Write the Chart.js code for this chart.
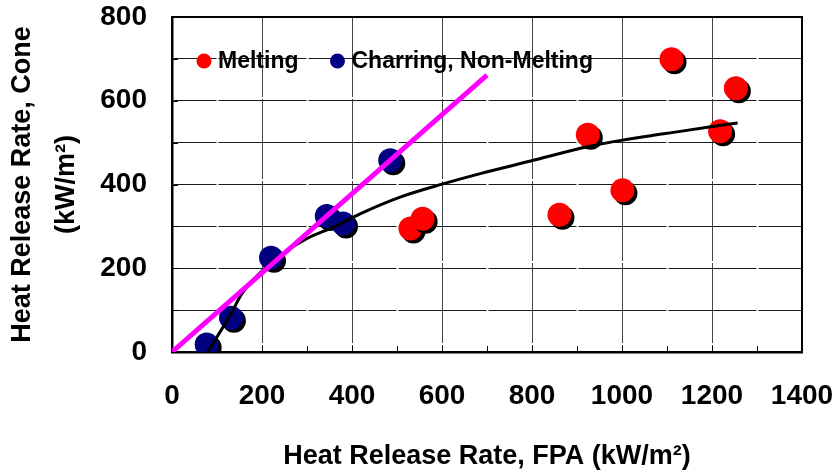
<!DOCTYPE html>
<html>
<head>
<meta charset="utf-8">
<script src="https://cdn.jsdelivr.net/npm/chart.js@4.4.1/dist/chart.umd.min.js"></script>
<style>
  html, body { margin: 0; padding: 0; background: #fff; }
  #canevas { display: block; }
</style>
</head>
<body>
<canvas id="canevas" width="834" height="474"></canvas>
<script>
// points mesures (kW/m2) : FPA en x, cone en y
const meltingFPA = [530, 557, 861, 924, 1001, 1110, 1218, 1253]
const meltingCone = [295, 318, 328, 519, 386, 699, 527, 630]

const charringFPA = [77, 131, 220, 344, 380, 485]
const charringCone = [18, 82, 225, 325, 307, 458]

// courbe de tendance noire
const courbeFPA = [79, 100, 133, 155, 218, 300, 359, 418, 507, 604, 685, 797, 923, 1001, 1093, 1205, 1257]
const courbeCone = [0, 36, 95, 139, 211, 271, 298, 330, 370, 402, 426, 456, 490, 506, 521, 539, 547]

// droite magenta
const droiteFPA = [0, 700]
const droiteCone = [0, 661]

const xTicks = [0, 200, 400, 600, 800, 1000, 1200, 1400]
const yTicks = [0, 200, 400, 600, 800]

const police = '"Liberation Sans", Arial, Helvetica, sans-serif'

function points(xs, ys){
  return Array.from(xs, (x, i) => ({ x: x, y: ys[i] }))
}

// ombre noire decalee sous les ronds
const ombre = {
  id: 'ombre',
  beforeDatasetDraw(chart, args){
    if (args.meta.type !== 'scatter') return
    const ctx = chart.ctx
    ctx.save()
    ctx.shadowColor = '#000'
    ctx.shadowOffsetX = 3
    ctx.shadowOffsetY = 3
    ctx.shadowBlur = 0
  },
  afterDatasetDraw(chart, args){
    if (args.meta.type !== 'scatter') return
    chart.ctx.restore()
  }
}

// cadre haut/droite + petites graduations interieures
const cadre = {
  id: 'cadre',
  beforeDatasetsDraw(chart){
    const {ctx, chartArea: a, scales} = chart
    ctx.save()
    ctx.strokeStyle = '#000'
    ctx.lineWidth = 1
    for (let v = 100; v < 1400; v += 100) {
      const px = Math.round(scales.x.getPixelForValue(v)) + 0.5
      ctx.beginPath(); ctx.moveTo(px, a.bottom); ctx.lineTo(px, a.bottom - 6); ctx.stroke()
    }
    for (let v = 100; v < 800; v += 100) {
      const py = Math.round(scales.y.getPixelForValue(v)) + 0.5
      ctx.beginPath(); ctx.moveTo(a.left, py); ctx.lineTo(a.left + 6, py); ctx.stroke()
    }
    ctx.lineWidth = 2
    ctx.beginPath()
    ctx.moveTo(a.left, a.top)
    ctx.lineTo(a.right, a.top)
    ctx.lineTo(a.right, a.bottom)
    ctx.stroke()
    ctx.restore()
  }
}

// legende sur une ligne, dans la zone du graphique
const legende = {
  id: 'legende',
  afterDatasetsDraw(chart){
    const {ctx, chartArea: a} = chart
    let x = a.left + 32
    const y = a.top + 44
    ctx.save()
    ctx.font = 'bold 23px ' + police
    ctx.textBaseline = 'middle'
    ctx.textAlign = 'left'
    chart.data.datasets.forEach(ds => {
      if (ds.type !== 'scatter') return
      ctx.fillStyle = ds.backgroundColor
      ctx.beginPath()
      ctx.arc(x, y, 7.5, 0, Math.PI * 2)
      ctx.fill()
      ctx.fillStyle = '#000'
      ctx.fillText(ds.label, x + 14, y + 1)
      x += 14 + ctx.measureText(ds.label).width + 39
    })
    ctx.restore()
  }
}

new Chart(document.getElementById('canevas'), {
  data: {
    datasets: [
      {
        type: 'line',
        label: 'droite',
        data: points(droiteFPA, droiteCone),
        borderColor: '#FF00FF',
        borderWidth: 5,
        pointRadius: 0,
        order: 1
      },
      {
        type: 'line',
        label: 'tendance',
        data: points(courbeFPA, courbeCone),
        borderColor: '#000',
        borderWidth: 3,
        pointRadius: 0,
        cubicInterpolationMode: 'monotone',
        order: 2
      },
      {
        type: 'scatter',
        label: 'Melting',
        data: points(meltingFPA, meltingCone),
        backgroundColor: '#FF0000',
        borderWidth: 0,
        pointRadius: 12,
        order: 3
      },
      {
        type: 'scatter',
        label: 'Charring, Non-Melting',
        data: points(charringFPA, charringCone),
        backgroundColor: '#000080',
        borderWidth: 0,
        pointRadius: 12,
        order: 3
      }
    ]
  },
  options: {
    responsive: false,
    animation: false,
    events: [],
    layout: { padding: { top: 17, right: 32, left: 0, bottom: 0 } },
    plugins: {
      tooltip: { enabled: false },
      legend: { display: false }
    },
    scales: {
      x: {
        type: 'linear',
        min: 0,
        max: 1400,
        afterFit: (s) => { s.height = 122 },
        ticks: {
          stepSize: 100,
          autoSkip: false,
          maxRotation: 0,
          minRotation: 0,
          padding: 0,
          color: '#000',
          font: { family: police, size: 28, weight: 'bold' },
          callback: (v) => xTicks.includes(v) ? String(v) : ''
        },
        grid: {
          drawTicks: true,
          tickLength: 27,
          tickColor: 'rgba(0,0,0,0)',
          lineWidth: 1,
          color: (c) => (c.tick && xTicks.includes(c.tick.value)) ? '#444' : 'rgba(0,0,0,0)'
        },
        border: { color: '#000', width: 2.5, dash: [80, 2], dashOffset: 0 },
        title: {
          display: true,
          text: 'Heat Release Rate, FPA (kW/m²)',
          color: '#000',
          padding: { top: 0, bottom: 1 },
          font: { family: police, size: 27, weight: 'bold' }
        }
      },
      y: {
        type: 'linear',
        min: 0,
        max: 800,
        afterFit: (s) => { s.width = 172 },
        ticks: {
          stepSize: 100,
          autoSkip: false,
          padding: 0,
          color: '#000',
          font: { family: police, size: 28, weight: 'bold' },
          callback: (v) => yTicks.includes(v) ? String(v) : ''
        },
        grid: {
          drawTicks: true,
          tickLength: 25,
          tickColor: 'rgba(0,0,0,0)',
          lineWidth: 1,
          color: '#1a1a1a'
        },
        border: { color: '#000', width: 2.5, dash: [88, 2], dashOffset: 45 },
        title: {
          display: true,
          text: ['Heat Release Rate, Cone', '(kW/m²)'],
          color: '#000',
          padding: { top: 1, bottom: 0 },
          font: { family: police, size: 27, weight: 'bold', lineHeight: 1.61 }
        }
      }
    }
  },
  plugins: [ombre, cadre, legende]
})
</script>
</body>
</html>
